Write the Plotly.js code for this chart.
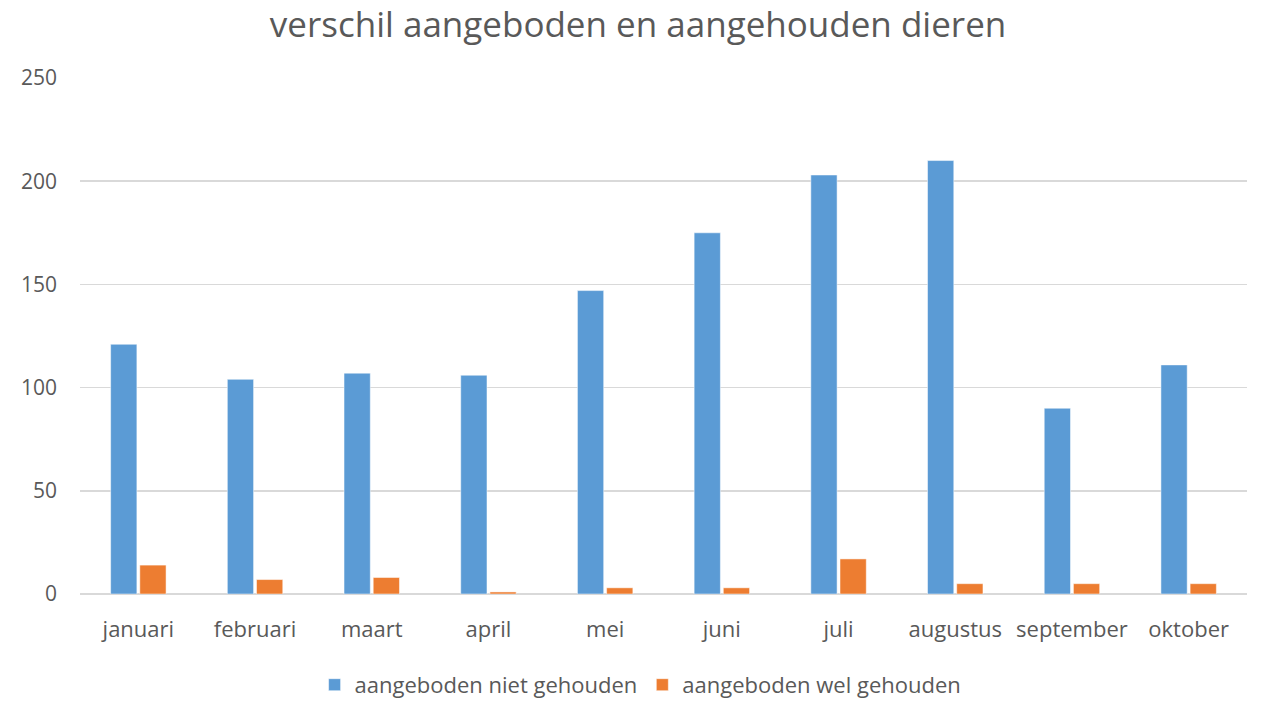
<!DOCTYPE html>
<html>
<head>
<meta charset="utf-8">
<script src="https://cdn.plot.ly/plotly-3.0.1.min.js"></script>
<style>
  html, body { margin: 0; padding: 0; background: #fff; }
  #gd { width: 1261px; height: 701px; }
</style>
</head>
<body>
<div id="gd"></div>
<script>
// months on the x axis
var maanden = ["januari", "februari", "maart", "april", "mei", "juni", "juli", "augustus", "september", "oktober"];
// series values
var nietGehouden = [121, 104, 107, 106, 147, 175, 203, 210, 90, 111];
var welGehouden = [14, 7, 8, 1, 3, 3, 17, 5, 5, 5];
var yTicks = [0, 50, 100, 150, 200, 250];

var font = "'Open Sans', 'Noto Sans', sans-serif";

var traces = [
  {
    type: "bar",
    name: "aangeboden niet gehouden",
    x: maanden,
    y: nietGehouden,
    marker: { color: "#5b9bd5", line: { color: "#ffffff", width: 0.5 } },
    hoverinfo: "x+y"
  },
  {
    type: "bar",
    name: "aangeboden wel gehouden",
    x: maanden,
    y: welGehouden,
    marker: { color: "#ed7d31", line: { color: "#ffffff", width: 0.5 } },
    hoverinfo: "x+y"
  }
];

var layout = {
  width: 1261,
  height: 701,
  paper_bgcolor: "#ffffff",
  plot_bgcolor: "#ffffff",
  font: { family: font, color: "#595959" },
  title: {
    text: "verschil aangeboden en aangehouden dieren",
    font: { family: font, size: 35, color: "#595959" },
    x: 0.506,
    xanchor: "center",
    xref: "container",
    y: 0.965,
    yanchor: "middle"
  },
  margin: { l: 80, r: 14, t: 78, b: 107 },
  barmode: "group",
  bargap: 0.5,
  bargroupgap: 0.1,
  showlegend: true,
  legend: {
    orientation: "h",
    x: 0.508,
    xanchor: "center",
    xref: "container",
    yref: "container",
    y: 0.023,
    yanchor: "middle",
    font: { family: font, size: 22, color: "#595959" },
    itemwidth: 30,
    tracegroupgap: 0
  },
  xaxis: {
    type: "category",
    showgrid: false,
    showline: false,
    zeroline: false,
    ticks: "",
    automargin: false,
    ticklabelstandoff: 20,
    tickfont: { family: font, size: 22, color: "#595959" }
  },
  yaxis: {
    range: [0, 250],
    tickvals: yTicks,
    showgrid: true,
    gridcolor: "#d9d9d9",
    gridwidth: 1.5,
    zeroline: true,
    zerolinecolor: "#d9d9d9",
    zerolinewidth: 1.5,
    showline: false,
    ticks: "",
    ticklen: 0,
    automargin: false,
    tickfont: { family: font, size: 21, color: "#595959" },
    ticklabelstandoff: 22
  }
};

Plotly.newPlot("gd", traces, layout, { displayModeBar: false, staticPlot: true });
</script>
</body>
</html>
